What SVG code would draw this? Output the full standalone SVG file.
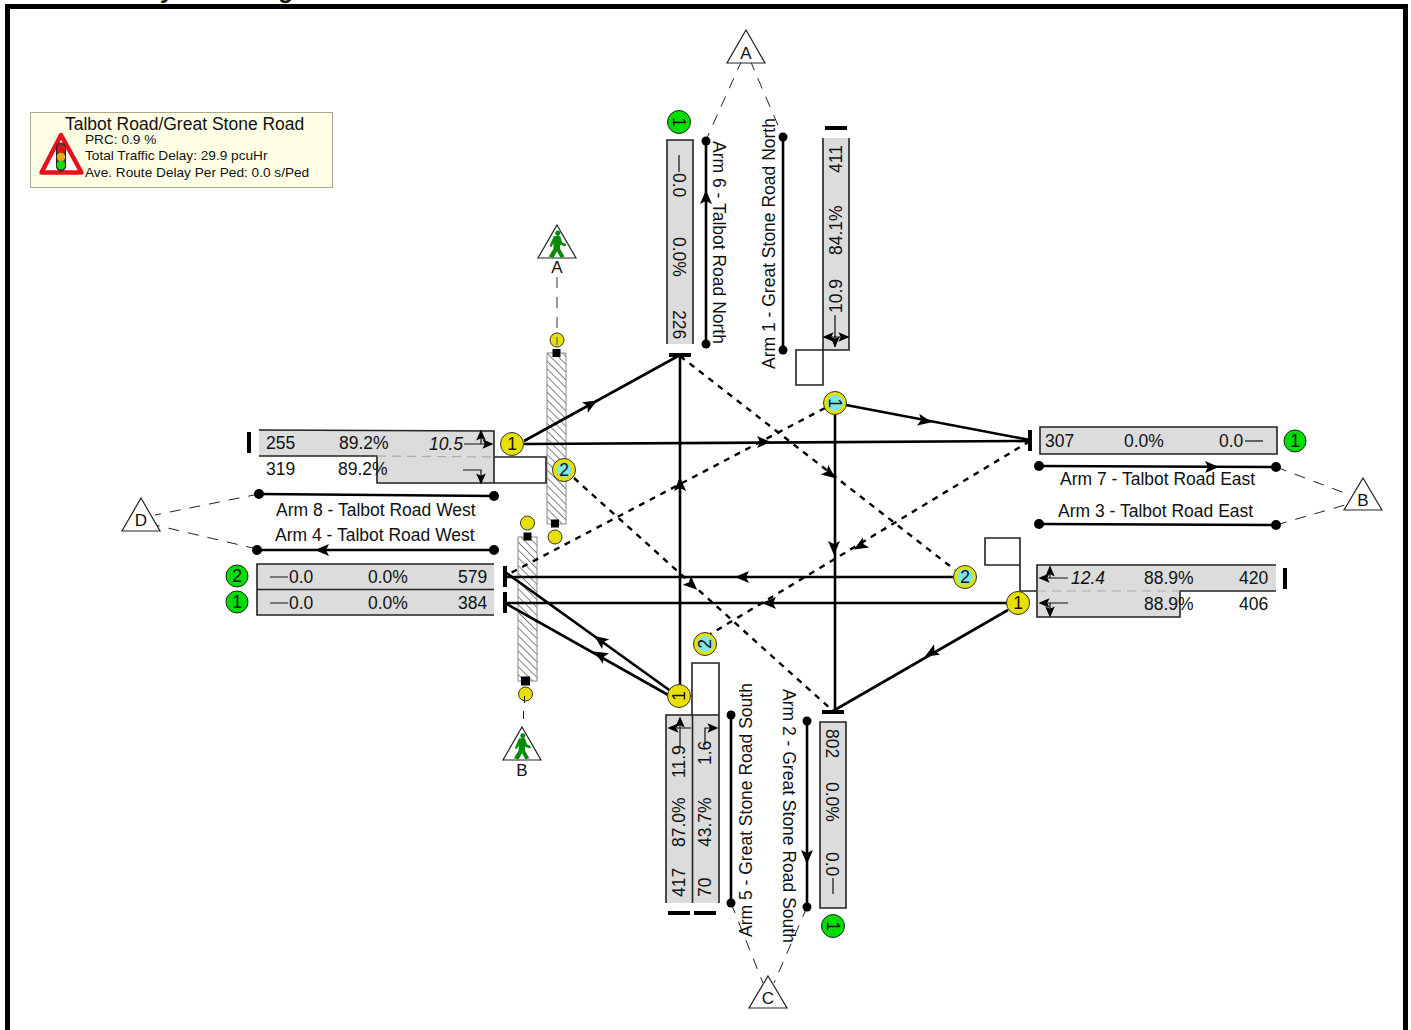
<svg xmlns="http://www.w3.org/2000/svg" width="1411" height="1030" viewBox="0 0 1411 1030">
<style>
text{font-family:"Liberation Sans",Arial,sans-serif;font-size:17.500px;fill:#111}
.i{font-style:italic}
.lane{fill:#dcdcdc;stroke:none}
.o{fill:none;stroke:#222;stroke-width:1.6}
.l{fill:none;stroke:#000;stroke-width:2.6}
.d{fill:none;stroke:#000;stroke-width:2.4;stroke-dasharray:6 6}
.g{fill:none;stroke:#222;stroke-width:1;stroke-dasharray:11 9}
.p{fill:none;stroke:#777;stroke-width:1.500;stroke-dasharray:11 9}
.a{fill:#000;stroke:none}
.bar{fill:#000}
.y{fill:#e8e000;stroke:#333;stroke-width:1}
.gr{fill:#00dd00;stroke:#222;stroke-width:1}
.c{fill:#7fe6e6}
.tri{fill:#fff;stroke:#222;stroke-width:1.200}
.thin{fill:none;stroke:#111;stroke-width:1.200}
.n{text-anchor:middle}
.dot{fill:#000}
.s{font-size:13.650px}
.t{font-size:17px}
.title{font-size:24px;font-weight:bold;font-style:italic}
</style>
<defs>
<pattern id="h" width="5.500" height="5.500" patternUnits="userSpaceOnUse" patternTransform="rotate(45)"><rect width="5.500" height="5.500" fill="#fff"/><line x1="0" y1="0" x2="5.500" y2="0" stroke="#333" stroke-width="1.200"/></pattern>
<path id="ah" d="M7 0L-7 -6L-4 0L-7 6Z"/>
<path id="man" d="M1 -17.500a3 3 0 1 1 -.1 0ZM-3.500 -11.500L3.500 -11.500L6 -4L10.500 -2L9.500 .5L3.500 -1.500L3.500 3L8.500 12L4 13.500L0 6L-4 13.500L-9.500 12L-4 3L-4 -3L-6.500 1.500L-8.500 0Z" fill="#0a8a0a"/>
</defs>
<text class="title" x="162" y="-2">y</text>
<text class="title" x="280" y="-2">g</text>
<rect x="7.500" y="6.500" width="1398" height="1030" fill="none" stroke="#000" stroke-width="5"/>

<g id="legend">
<rect x="30.500" y="112.500" width="302" height="75" fill="#ffffe6" stroke="#aaa98a"/>
<path d="M61 135L41.500 172.500L81.500 172.500Z" fill="#fff" stroke="#e8101a" stroke-width="4.500" stroke-linejoin="round"/>
<rect x="56.500" y="143" width="9" height="28" rx="4.500" fill="#444" stroke="#222"/>
<circle cx="61" cy="149" r="4.200" fill="#e01515"/><circle cx="61" cy="157" r="4.200" fill="#f0a818"/><circle cx="61" cy="165" r="4.200" fill="#10e010"/>
<text x="65" y="130">Talbot Road/Great Stone Road</text>
<text class="s" x="85" y="144">PRC: 0.9 %</text>
<text class="s" x="85" y="160">Total Traffic Delay: 29.9 pcuHr</text>
<text class="s" x="85" y="177">Ave. Route Delay Per Ped: 0.0 s/Ped</text>
</g>

<g id="crossings">
<rect x="547" y="353" width="19" height="171" fill="url(#h)" stroke="#888"/>
<rect x="518" y="537" width="19" height="144" fill="url(#h)" stroke="#888"/>
<rect x="552.500" y="349" width="8" height="8" fill="#000"/><circle cx="557" cy="340" r="7" class="y"/>
<rect x="551" y="519.500" width="8" height="8" fill="#000"/><circle cx="555" cy="537" r="7" class="y"/>
<rect x="523.500" y="532.500" width="8" height="8" fill="#000"/><circle cx="527.500" cy="523" r="7" class="y"/>
<rect x="521" y="676.500" width="9" height="9" fill="#000"/><circle cx="525.500" cy="694" r="7" class="y"/>
<path class="p" d="M557 277V345"/>
<path d="M524.500 696V703M523.500 711V719M522.500 727V729" fill="none" stroke="#222" stroke-width="1"/>
</g>

<g id="connectors">
<path class="l" d="M524 441L680 355"/><use href="#ah" class="a" transform="translate(591 404) rotate(-29)"/>
<path class="l" d="M524 444L1030 441"/><use href="#ah" class="a" transform="translate(764 442)"/>
<path class="l" d="M680 685V356"/><use href="#ah" class="a" transform="translate(680 484) rotate(-90)"/>
<path class="l" d="M672 692L505 572"/><use href="#ah" class="a" transform="translate(600 640) rotate(-144)"/>
<path class="l" d="M670 696L505 603"/><use href="#ah" class="a" transform="translate(600 655) rotate(-150)"/>
<path class="l" d="M835 415V712"/><use href="#ah" class="a" transform="translate(834 548) rotate(90)"/>
<path class="l" d="M846 405L1030 440"/><use href="#ah" class="a" transform="translate(925 421) rotate(11)"/>
<path class="l" d="M954 577L505 577"/><use href="#ah" class="a" transform="translate(742 577) rotate(180)"/>
<path class="l" d="M1007 603L505 603"/><use href="#ah" class="a" transform="translate(769 603) rotate(180)"/>
<path class="l" d="M1008 610L833 711"/><use href="#ah" class="a" transform="translate(931 653) rotate(150)"/>
<path class="d" d="M680 356L955 570"/><use href="#ah" class="a" transform="translate(830 474) rotate(38)"/>
<path class="d" d="M825 408L505 576"/>
<path class="d" d="M1030 441L704 638"/><use href="#ah" class="a" transform="translate(860 546) rotate(149)"/>
<path class="d" d="M574 478L833 711"/><use href="#ah" class="a" transform="translate(692 585) rotate(42)"/>
<path class="g" d="M742 60L706 140M750 60L783 137"/>
<path class="g" d="M1276 467L1350 495M1276 525L1345 505"/>
<path class="g" d="M259 494L155 515M257 549L155 525"/>
<path class="g" d="M731 903L763 983M807 907L774 983"/>
</g>

<g id="node-a"><path class="tri" d="M746 30L765 63L727 63Z"/><text class="n t" x="746" y="59">A</text></g>
<g id="node-b"><path class="tri" d="M1363 478L1382 510L1344 510Z"/><text class="n t" x="1363" y="506">B</text></g>
<g id="node-c"><path class="tri" d="M768 976L787 1008L749 1008Z"/><text class="n t" x="768" y="1004">C</text></g>
<g id="node-d"><path class="tri" d="M141 498L160 531L122 531Z"/><text class="n t" x="141" y="526">D</text></g>
<g id="ped-a"><path class="tri" d="M557 225L576 258L538 258Z"/><use href="#man" transform="translate(557 246) scale(.88)"/><text class="n t" x="557" y="273">A</text></g>
<g id="ped-b"><path class="tri" d="M522 727L541 760L503 760Z"/><use href="#man" transform="translate(522 748) scale(.85)"/><text class="n t" x="522" y="776">B</text></g>

<g id="arm-8">
<path class="lane" d="M259 430L494 431V483H377V456H259Z"/>
<path class="o" d="M259 430L494 431V483H377V456H259M494 457H546V483H494"/>
<path d="M377 456L494 457" stroke="#aaa" stroke-width="1.200" stroke-dasharray="9 6" fill="none"/>
<rect x="247" y="432" width="4" height="21" class="bar"/>
<text x="266" y="449">255</text><text x="339" y="449">89.2%</text><text class="i" x="429" y="450">10.5</text>
<text x="266" y="475">319</text><text x="338" y="475">89.2%</text>
<path class="thin" d="M464 444H490M481 444V433M463 470H481V480"/>
<use href="#ah" class="a" transform="translate(488 444) scale(.8)"/><use href="#ah" class="a" transform="translate(481 435) rotate(-90) scale(.8)"/><use href="#ah" class="a" transform="translate(481 479) rotate(90) scale(.8)"/>
<circle cx="259" cy="494" r="5" class="dot"/><circle cx="494" cy="496" r="5" class="dot"/><path class="l" d="M259 494L494 496"/>
<text x="276" y="516">Arm 8 - Talbot Road West</text>
</g>

<g id="arm-4">
<text x="275" y="541">Arm 4 - Talbot Road West</text>
<circle cx="257" cy="550" r="5" class="dot"/><circle cx="494" cy="550" r="5" class="dot"/><path class="l" d="M257 550H494"/>
<use href="#ah" class="a" transform="translate(322 550) rotate(180)"/>
<rect x="257" y="564" width="237" height="51" class="lane"/>
<path class="o" d="M494 564H257V615H494M257 589.500H494"/>
<rect x="503" y="566" width="4" height="21" class="bar"/><rect x="503" y="592" width="4" height="21" class="bar"/>
<text x="289" y="583">0.0</text><text x="368" y="583">0.0%</text><text x="458" y="583">579</text>
<text x="289" y="609">0.0</text><text x="368" y="609">0.0%</text><text x="458" y="609">384</text>
<path class="thin" d="M270 577H288M270 603H288"/>
<circle cx="237" cy="576" r="11" class="gr"/><text class="n" x="237" y="582">2</text>
<circle cx="237" cy="602" r="11" class="gr"/><text class="n" x="237" y="608">1</text>
</g>

<g id="arm-7">
<rect x="1040" y="427" width="237" height="27" class="lane"/>
<path class="o" d="M1040 427H1277V454H1040Z"/>
<rect x="1028" y="430" width="4" height="21" class="bar"/>
<text x="1045" y="447">307</text><text x="1124" y="447">0.0%</text><text x="1219" y="447">0.0</text>
<path class="thin" d="M1245 441H1263"/>
<circle cx="1295" cy="441" r="11" class="gr"/><text class="n" x="1295" y="447">1</text>
<circle cx="1039" cy="466" r="5" class="dot"/><circle cx="1276" cy="467" r="5" class="dot"/><path class="l" d="M1039 466L1276 467"/>
<use href="#ah" class="a" transform="translate(1212 467)"/>
<text x="1060" y="485">Arm 7 - Talbot Road East</text>
</g>

<g id="arm-3">
<text x="1058" y="517">Arm 3 - Talbot Road East</text>
<circle cx="1039" cy="524" r="5" class="dot"/><circle cx="1276" cy="525" r="5" class="dot"/><path class="l" d="M1039 524L1276 525"/>
<path class="lane" d="M1037 565H1276V591H1180V617H1037Z"/>
<path class="o" d="M1276 565H1037V617H1180V591H1276M985 538H1020V565H985ZM1020 565V591H1037"/>
<path d="M1037 591H1180" stroke="#aaa" stroke-width="1.200" stroke-dasharray="9 6" fill="none"/>
<rect x="1283" y="568" width="4" height="21" class="bar"/>
<text class="i" x="1071" y="584">12.4</text><text x="1144" y="584">88.9%</text><text x="1239" y="584">420</text>
<text x="1144" y="610">88.9%</text><text x="1239" y="610">406</text>
<path class="thin" d="M1068 578H1040M1050 578V567M1068 603H1040M1050 603V615"/>
<use href="#ah" class="a" transform="translate(1044 578) rotate(180) scale(.8)"/><use href="#ah" class="a" transform="translate(1050 571) rotate(-90) scale(.8)"/><use href="#ah" class="a" transform="translate(1044 603) rotate(180) scale(.8)"/><use href="#ah" class="a" transform="translate(1050 612) rotate(90) scale(.8)"/>
</g>

<g id="arm-6">
<rect x="667" y="140" width="26" height="204" class="lane"/>
<path class="o" d="M667 344V140H693V344"/>
<rect x="669" y="353" width="22" height="4" class="bar"/>
<text transform="translate(673 173) rotate(90)">0.0</text><text transform="translate(673 237) rotate(90)">0.0%</text><text transform="translate(673 310) rotate(90)">226</text>
<path class="thin" d="M679 155V172"/>
<circle cx="679" cy="122" r="11.500" class="gr"/><text class="n" transform="translate(673 122) rotate(90)">1</text>
<circle cx="706" cy="141" r="4.500" class="dot"/><circle cx="706" cy="344" r="4.500" class="dot"/><path class="l" d="M706 141V344"/>
<use href="#ah" class="a" transform="translate(706 197) rotate(-90)"/>
<text transform="translate(713 141) rotate(90)">Arm 6 - Talbot Road North</text>
</g>

<g id="arm-1">
<rect x="823" y="138" width="26" height="212" class="lane"/>
<path class="o" d="M823 138V350H849V138M796 350H823V385H796Z"/>
<rect x="825" y="126" width="22" height="4" class="bar"/>
<text transform="translate(842 313) rotate(-90)">10.9</text><text transform="translate(842 255) rotate(-90)">84.1%</text><text transform="translate(842 173) rotate(-90)">411</text>
<path class="thin" d="M835 347V315M824 337H848"/>
<use href="#ah" class="a" transform="translate(828 337) rotate(180) scale(.8)"/><use href="#ah" class="a" transform="translate(844 337) scale(.8)"/><use href="#ah" class="a" transform="translate(835 342) rotate(90) scale(.8)"/>
<circle cx="783" cy="137" r="4.500" class="dot"/><circle cx="783" cy="350" r="4.500" class="dot"/><path class="l" d="M783 137V350"/>
<text transform="translate(775 369) rotate(-90)">Arm 1 - Great Stone Road North</text>
</g>

<g id="arm-5">
<rect x="666" y="715" width="53" height="188" class="lane"/>
<path class="o" d="M666 903V715H719V903M692.500 903V715M692 715V663H719V715"/>
<rect x="668" y="911" width="22" height="4" class="bar"/><rect x="694" y="911" width="22" height="4" class="bar"/>
<text transform="translate(685 897) rotate(-90)">417</text><text transform="translate(685 847) rotate(-90)">87.0%</text><text transform="translate(685 778) rotate(-90)">11.9</text>
<text transform="translate(711 897) rotate(-90)">70</text><text transform="translate(711 847) rotate(-90)">43.7%</text><text transform="translate(711 765) rotate(-90)">1.6</text>
<path class="thin" d="M680 747V718M670 728H691M705 745V728H716"/>
<use href="#ah" class="a" transform="translate(680 722) rotate(-90) scale(.8)"/><use href="#ah" class="a" transform="translate(673 728) rotate(180) scale(.8)"/><use href="#ah" class="a" transform="translate(713 728) scale(.8)"/>
<circle cx="731" cy="715" r="4.500" class="dot"/><circle cx="731" cy="903" r="4.500" class="dot"/><path class="l" d="M731 715V903"/>
<text transform="translate(752 937) rotate(-90)">Arm 5 - Great Stone Road South</text>
</g>

<g id="arm-2">
<rect x="820" y="722" width="26" height="186" class="lane"/>
<path class="o" d="M820 722H846V908H820Z"/>
<rect x="822" y="710" width="22" height="4" class="bar"/>
<text transform="translate(826 729) rotate(90)">802</text><text transform="translate(826 782) rotate(90)">0.0%</text><text transform="translate(826 852) rotate(90)">0.0</text>
<path class="thin" d="M833 878V894"/>
<circle cx="833" cy="926" r="11.500" class="gr"/><text class="n" transform="translate(827 926) rotate(90)">1</text>
<circle cx="807" cy="721" r="4.500" class="dot"/><circle cx="807" cy="907" r="4.500" class="dot"/><path class="l" d="M807 721V907"/>
<use href="#ah" class="a" transform="translate(807 857) rotate(90)"/>
<text transform="translate(783 689) rotate(90)">Arm 2 - Great Stone Road South</text>
</g>

<g id="stages">
<circle cx="512" cy="444" r="11.500" class="y"/><text class="n" x="512" y="450">1</text>
<circle cx="564" cy="470" r="11.500" class="y"/><circle cx="564" cy="470" r="7.500" class="c"/><text class="n" x="564" y="476">2</text>
<circle cx="835" cy="403" r="11.500" class="y"/><circle cx="835" cy="403" r="8" class="c"/><text class="n" transform="translate(829 403) rotate(90)">1</text>
<circle cx="965" cy="577" r="11.500" class="y"/><circle cx="965" cy="577" r="8" class="c"/><text class="n" x="965" y="583">2</text>
<circle cx="1018" cy="603" r="11.500" class="y"/><text class="n" x="1018" y="609">1</text>
<circle cx="705" cy="644" r="11.500" class="y"/><circle cx="705" cy="644" r="8" class="c"/><text class="n" transform="translate(711 644) rotate(-90)">2</text>
<circle cx="679" cy="696" r="11.500" class="y"/><text class="n" transform="translate(685 696) rotate(-90)">1</text>
</g>
</svg>
